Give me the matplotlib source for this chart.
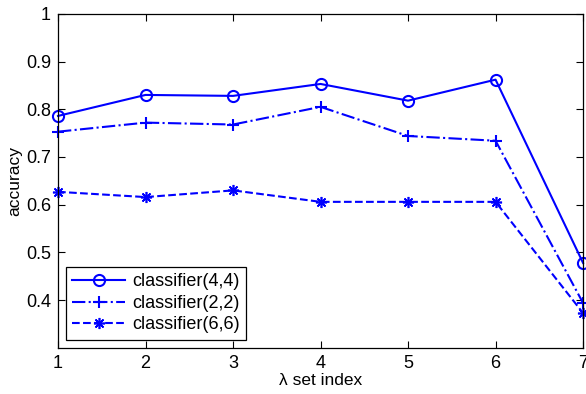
import matplotlib
matplotlib.use("Agg")
import matplotlib.pyplot as plt

plt.rcParams["font.family"] = ["Liberation Sans", "DejaVu Sans"]

lambda_idx = [1, 2, 3, 4, 5, 6, 7]
acc_44 = [0.786, 0.830, 0.828, 0.853, 0.818, 0.862, 0.478]
acc_22 = [0.753, 0.772, 0.768, 0.805, 0.744, 0.734, 0.394]
acc_66 = [0.627, 0.616, 0.630, 0.606, 0.606, 0.606, 0.373]
labels = ["classifier(4,4)", "classifier(2,2)", "classifier(6,6)"]

fig = plt.figure(figsize=(5.86, 3.94), dpi=100)
ax = fig.add_axes([0.099, 0.117, 0.896, 0.848])

blue = "#0000ff"
ax.plot(lambda_idx, acc_44, color=blue, ls="-", lw=1.5, marker="o",
        ms=8, mfc="none", mew=1.5, label=labels[0], clip_on=False)
ax.plot(lambda_idx, acc_22, color=blue, ls="-.", lw=1.5, marker="+",
        ms=9, mew=1.5, label=labels[1], clip_on=False)
ax.plot(lambda_idx, acc_66, color=blue, ls="--", lw=1.5, marker=(8, 2, 0),
        ms=8, mew=1.2, label=labels[2], clip_on=False)

ax.set_xlim(1, 7)
ax.set_ylim(0.3, 1.0)
ax.set_xticks(lambda_idx)
ax.set_yticks([0.4, 0.5, 0.6, 0.7, 0.8, 0.9, 1.0])
ax.set_yticklabels(["0.4", "0.5", "0.6", "0.7", "0.8", "0.9", "1"])
ax.tick_params(direction="in", top=True, right=True, length=5, width=0.8,
               labelsize=13, pad=5)
for s in ax.spines.values():
    s.set_linewidth(0.9)

ax.set_xlabel("λ set index", fontsize=12.5, labelpad=1)
ax.set_ylabel("accuracy", fontsize=12.5, labelpad=3)

leg = ax.legend(loc="lower left", fontsize=13,
                fancybox=False, edgecolor="black", framealpha=1,
                handlelength=2.9, borderpad=0.35, labelspacing=0.25,
                handletextpad=0.4, borderaxespad=0.45)
leg.get_frame().set_linewidth(0.9)

fig.savefig("out.png", dpi=100)
